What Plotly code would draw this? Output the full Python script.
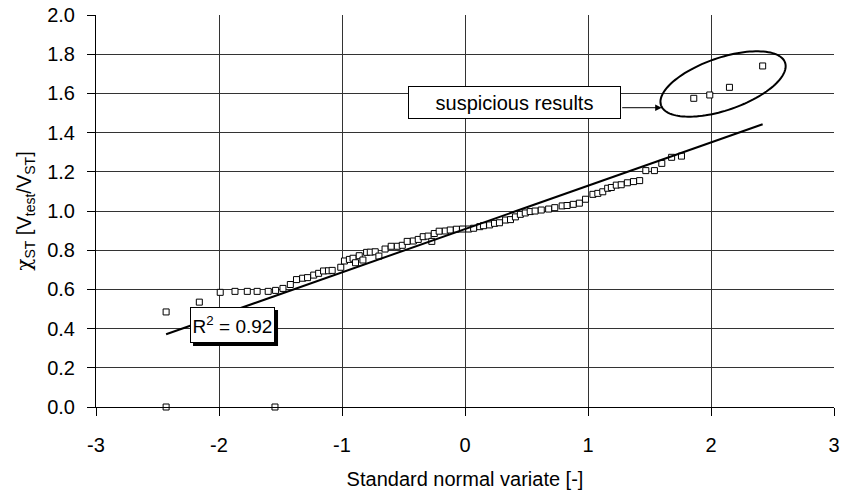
import numpy as np
import plotly.graph_objects as go

# ---- data ----
x_vals = [-2.43, -2.43, -2.16, -1.99, -1.87, -1.77, -1.69, -1.60, -1.545, -1.54,
          -1.48, -1.42, -1.37, -1.32, -1.28, -1.23, -1.19, -1.15, -1.11, -1.08,
          -1.01, -0.98, -0.94, -0.91, -0.89, -0.86, -0.83, -0.80, -0.77, -0.73,
          -0.70, -0.65, -0.60, -0.55, -0.51, -0.47, -0.42, -0.38, -0.34, -0.30,
          -0.27, -0.25, -0.21, -0.16, -0.12, -0.07, -0.02, 0.03, 0.07, 0.12,
          0.15, 0.20, 0.24, 0.28, 0.33, 0.37, 0.41, 0.45, 0.49, 0.53,
          0.57, 0.62, 0.68, 0.73, 0.79, 0.83, 0.88, 0.93, 0.98, 1.04,
          1.08, 1.12, 1.16, 1.19, 1.23, 1.27, 1.32, 1.37, 1.42, 1.47,
          1.54, 1.60, 1.68, 1.76, 1.86, 1.99, 2.15, 2.42]
y_vals = [0.00, 0.485, 0.535, 0.585, 0.59, 0.59, 0.59, 0.59, 0.00, 0.595,
          0.605, 0.625, 0.65, 0.657, 0.66, 0.673, 0.682, 0.694, 0.695, 0.697,
          0.713, 0.745, 0.753, 0.759, 0.736, 0.772, 0.75, 0.789, 0.79, 0.792,
          0.77, 0.806, 0.82, 0.82, 0.825, 0.845, 0.847, 0.855, 0.869, 0.872,
          0.845, 0.885, 0.897, 0.898, 0.903, 0.907, 0.908, 0.908, 0.912, 0.92,
          0.925, 0.929, 0.937, 0.94, 0.954, 0.956, 0.97, 0.983, 0.99, 0.997,
          1.0, 1.005, 1.01, 1.017, 1.026, 1.028, 1.034, 1.04, 1.06, 1.085,
          1.09, 1.098, 1.116, 1.12, 1.132, 1.134, 1.144, 1.15, 1.155, 1.206,
          1.206, 1.243, 1.274, 1.28, 1.575, 1.592, 1.631, 1.74]

trend_slope = 0.221
trend_intercept = 0.908
r2_label = "R<sup>2</sup> = 0.92"
note_label = "suspicious results"

x_tick_vals = [-3, -2, -1, 0, 1, 2, 3]
x_tick_labels = ["-3", "-2", "-1", "0", "1", "2", "3"]
y_tick_vals = [0.0, 0.2, 0.4, 0.6, 0.8, 1.0, 1.2, 1.4, 1.6, 1.8, 2.0]
y_tick_labels = ["0.0", "0.2", "0.4", "0.6", "0.8", "1.0", "1.2", "1.4", "1.6", "1.8", "2.0"]

# ---- layout geometry ----
W, H = 843, 497
ML, MR, MT, MB = 96, 9, 15, 90
PW, PH = W - ML - MR, H - MT - MB
X0, X1, Y0, Y1 = -3, 3, 0, 2
PXX = PW / (X1 - X0)   # px per x unit
PXY = PH / (Y1 - Y0)   # px per y unit

FONT = "Liberation Sans, Arial, sans-serif"
FS = 20

fig = go.Figure()
fig.add_trace(go.Scatter(
    x=x_vals, y=y_vals, mode="markers",
    marker=dict(symbol="square", size=6, color="white",
                line=dict(color="black", width=1)),
    cliponaxis=False, showlegend=False, hoverinfo="skip"))

trend_x = [min(x_vals), max(x_vals)]
trend_y = [trend_intercept + trend_slope * v for v in trend_x]
fig.add_trace(go.Scatter(
    x=trend_x, y=trend_y, mode="lines",
    line=dict(color="black", width=2), showlegend=False, hoverinfo="skip"))

# tilted ellipse around the suspicious results (defined in data units)
ec_x, ec_y = 2.098, 1.648
ea_px, eb_px, ang = 65.6, 26.2, np.deg2rad(19)
t = np.linspace(0, 2 * np.pi, 121)
ex_px = ea_px * np.cos(t) * np.cos(ang) - eb_px * np.sin(t) * np.sin(ang)
ey_px = ea_px * np.cos(t) * np.sin(ang) + eb_px * np.sin(t) * np.cos(ang)
ex = ec_x + ex_px / PXX
ey = ec_y + ey_px / PXY
path = "M " + " L ".join(f"{a:.4f},{b:.4f}" for a, b in zip(ex, ey)) + " Z"

shapes = [
    dict(type="path", path=path, xref="x", yref="y",
         line=dict(color="black", width=2), layer="above"),
    # drop shadow of R^2 box
    dict(type="rect", xref="x", yref="y",
         x0=-1.890 - 42.5 / PXX + 3 / PXX, x1=-1.890 + 42.5 / PXX + 3 / PXX,
         y0=0.418 - 18 / PXY - 3 / PXY, y1=0.418 + 18 / PXY - 3 / PXY,
         fillcolor="black", line=dict(width=0), layer="above"),
]

annotations = [
    dict(x=-1.890, y=0.418, xref="x", yref="y", text=r2_label, showarrow=False,
         width=83, height=34, bgcolor="white", bordercolor="black",
         borderwidth=1, borderpad=0, font=dict(family=FONT, size=19, color="black")),
    dict(x=0.402, y=1.554, xref="x", yref="y", text=note_label, showarrow=False,
         width=211, height=31, bgcolor="white", bordercolor="black",
         borderwidth=1, borderpad=0, font=dict(family=FONT, size=FS, color="black")),
    dict(x=1.599, y=1.527, xref="x", yref="y", text="", showarrow=True,
         ax=-41, ay=0, arrowhead=2, arrowsize=1.3, arrowwidth=1,
         arrowcolor="black", standoff=0, startstandoff=0),
]

axis_common = dict(
    automargin=False,
    showgrid=True, gridcolor="#333333", gridwidth=1,
    showline=True, linecolor="black", linewidth=1,
    ticks="outside", ticklen=8, tickcolor="black", tickwidth=1,
    zeroline=False,
    tickfont=dict(family=FONT, size=FS, color="black"),
)

y_title = ("<span style=\"font-family:'DejaVu Serif'\">χ</span>"
           "<sub>ST</sub> [V<sub>test</sub>/V<sub>ST</sub>]")

fig.update_layout(
    width=W, height=H,
    margin=dict(l=ML, r=MR, t=MT, b=MB, pad=0, autoexpand=False),
    paper_bgcolor="white", plot_bgcolor="white",
    font=dict(family=FONT, size=FS, color="black"),
    xaxis=dict(range=[X0, X1], tickvals=x_tick_vals, ticktext=x_tick_labels,
               ticklabelstandoff=12,
               title=dict(text="Standard normal variate [-]",
                          font=dict(family=FONT, size=FS, color="black"),
                          standoff=16),
               **axis_common),
    yaxis=dict(range=[Y0, Y1], tickvals=y_tick_vals, ticktext=y_tick_labels,
               ticklabelstandoff=8,
               title=dict(text=y_title,
                          font=dict(family=FONT, size=FS, color="black"),
                          standoff=10),
               **axis_common),
    shapes=shapes, annotations=annotations,
    showlegend=False,
)

fig.write_html("out.html")
